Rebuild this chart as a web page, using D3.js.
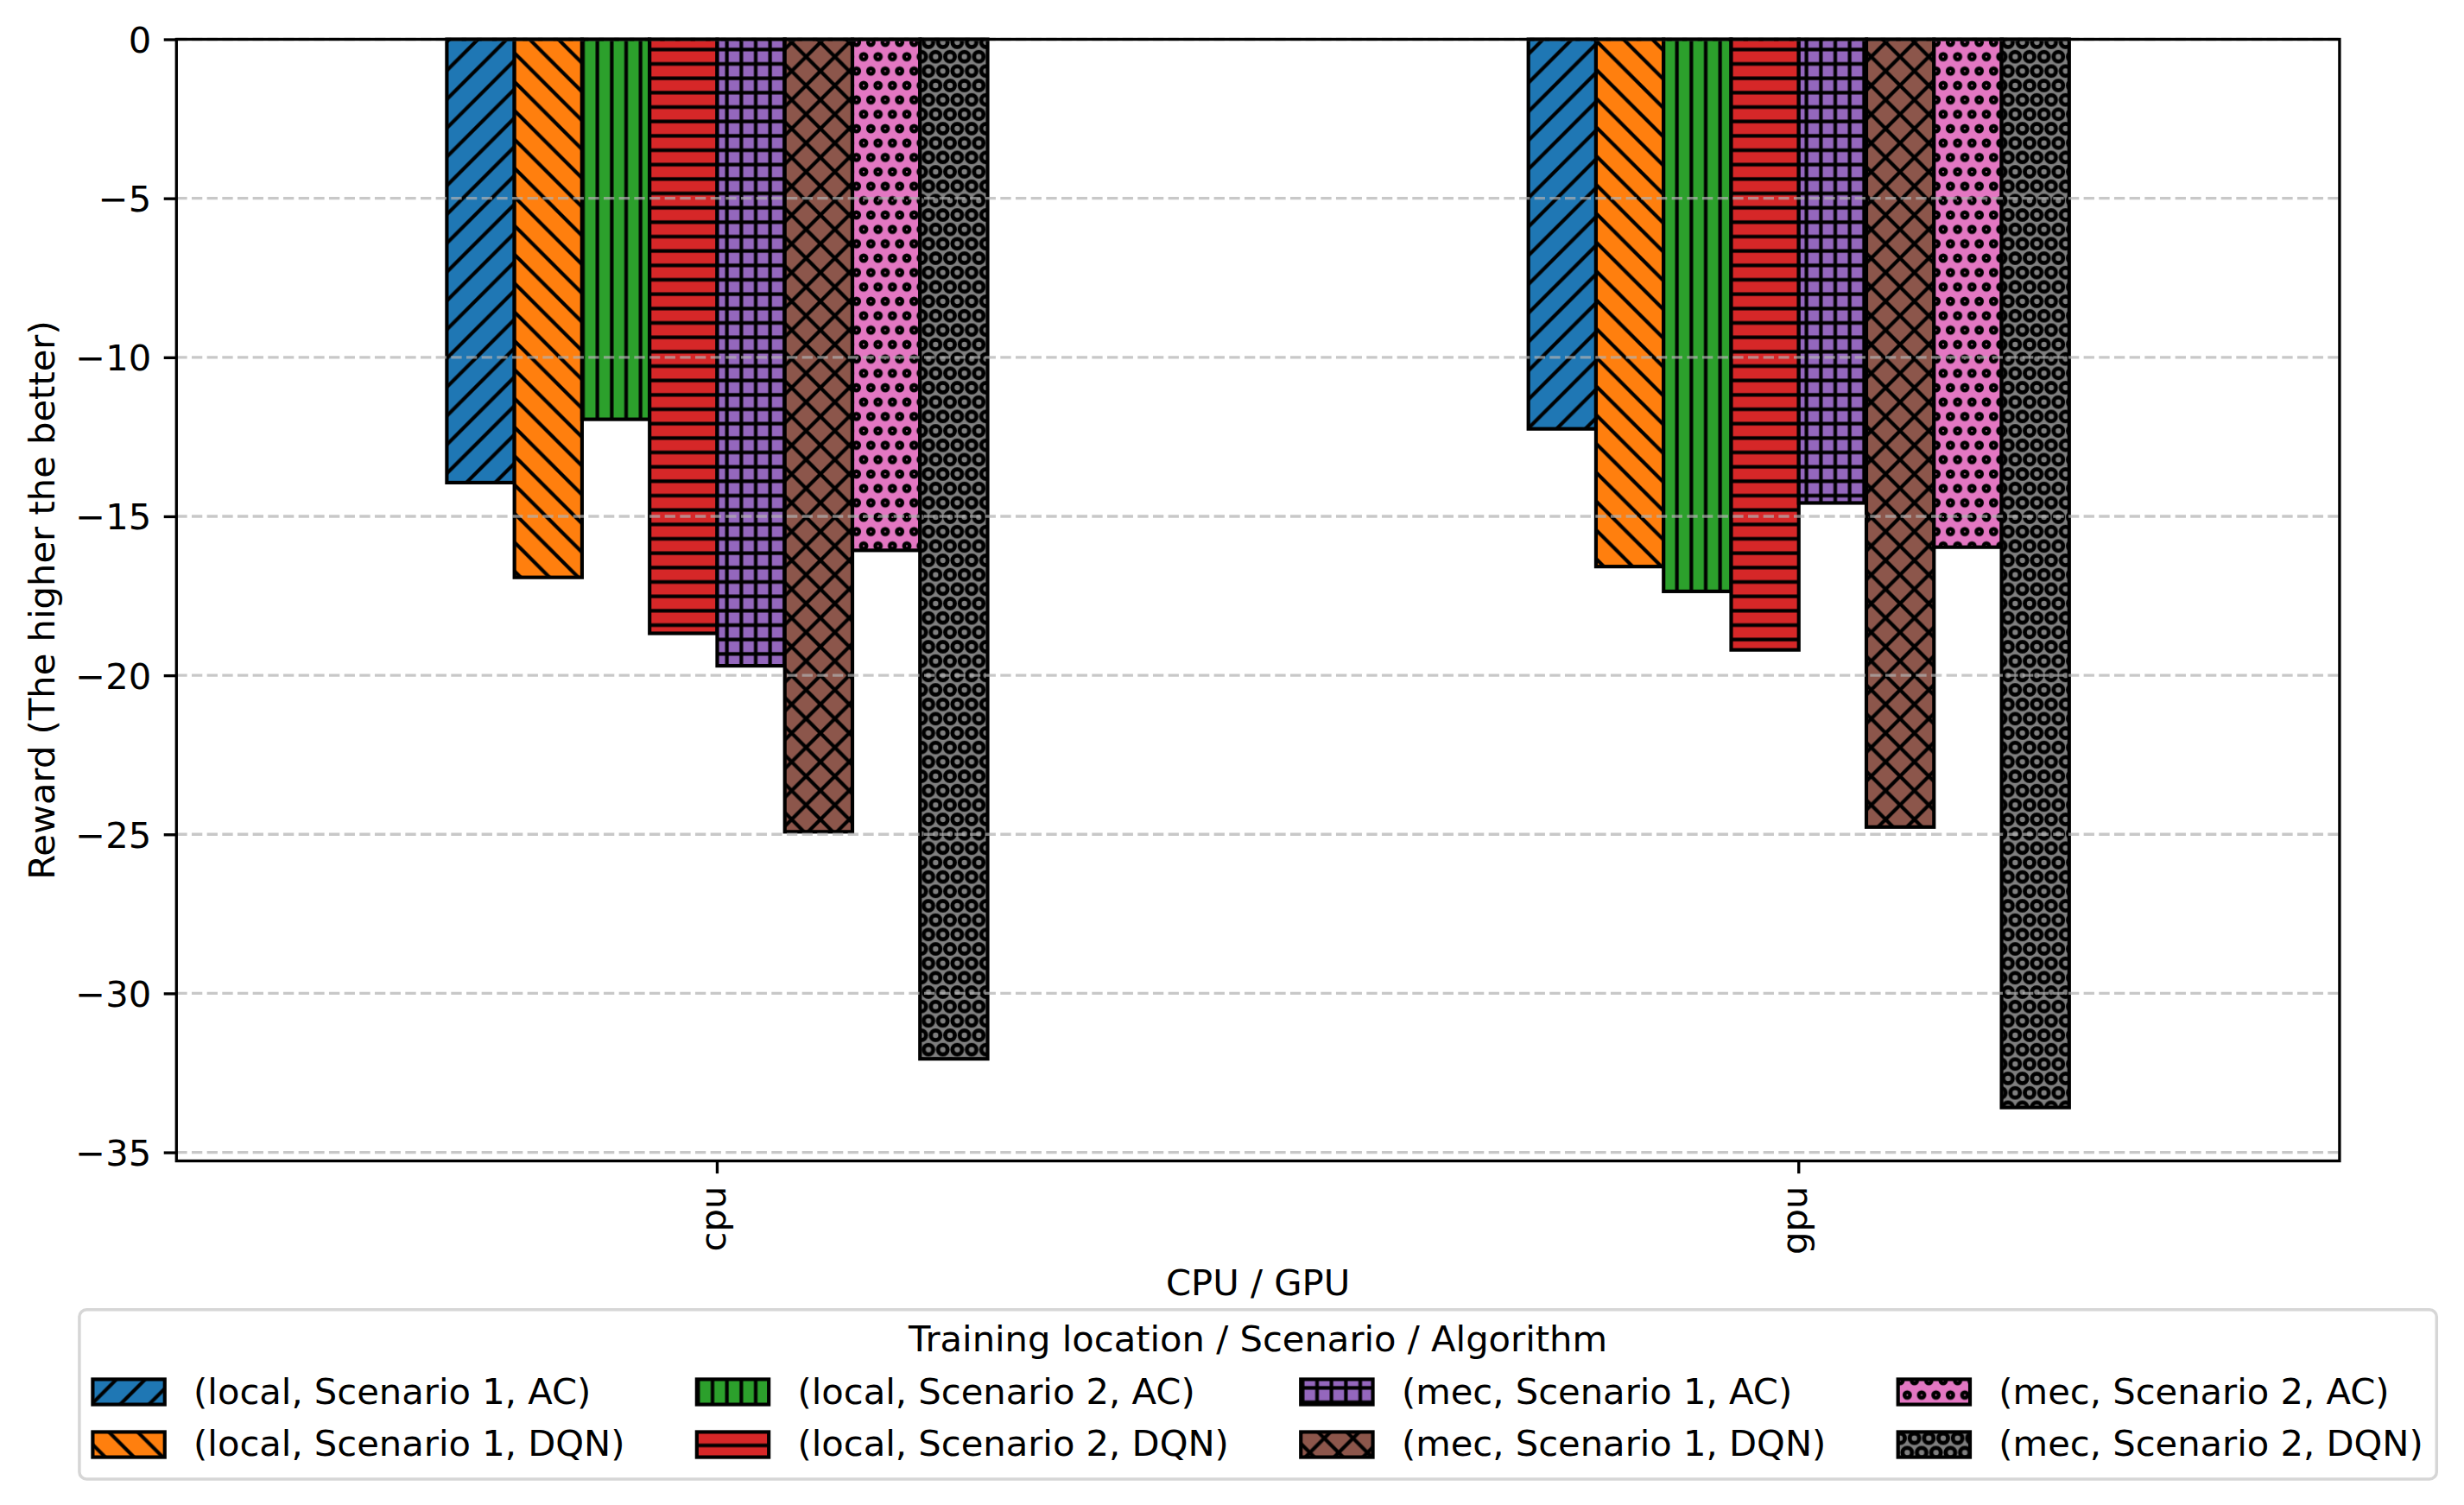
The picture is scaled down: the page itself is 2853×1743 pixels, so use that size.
<!DOCTYPE html>
<html>
<head>
<meta charset="utf-8">
<script src="https://cdn.jsdelivr.net/npm/d3@7"></script>
<style>
  body { margin: 0; background: #fff; }
  text { font-family: "DejaVu Sans", sans-serif; fill: #000; }
</style>
</head>
<body>
<div id="chart"></div>
<script>
// data
const categories = ["cpu", "gpu"];
const seriesLabels = [
  "(local, Scenario 1, AC)",
  "(local, Scenario 1, DQN)",
  "(local, Scenario 2, AC)",
  "(local, Scenario 2, DQN)",
  "(mec, Scenario 1, AC)",
  "(mec, Scenario 1, DQN)",
  "(mec, Scenario 2, AC)",
  "(mec, Scenario 2, DQN)",
];
const localS1AC = [-13.94, -12.25];
const localS1DQN = [-16.92, -16.58];
const localS2AC = [-11.95, -17.36];
const localS2DQN = [-18.68, -19.2];
const mecS1AC = [-19.7, -14.58];
const mecS1DQN = [-24.92, -24.77];
const mecS2AC = [-16.07, -15.97];
const mecS2DQN = [-32.06, -33.59];
const yTicks = [0, -5, -10, -15, -20, -25, -30, -35];

const seriesValues = [
  localS1AC, localS1DQN, localS2AC, localS2DQN,
  mecS1AC, mecS1DQN, mecS2AC, mecS2DQN,
];

// styles
const colors = ["#1f77b4", "#ff7f0e", "#2ca02c", "#d62728", "#9467bd", "#8c564b", "#e377c2", "#7f7f7f"];
const hatches = ["ne", "se", "vert", "horiz", "plus", "cross", "small", "large"];

const chartWidth = 2853;
const chartHeight = 1743;
const margin = { top: 45.5, right: 2853 - 2708.9, bottom: 1743 - 1344.5, left: 204.3 };
const width = chartWidth - margin.left - margin.right;
const height = chartHeight - margin.top - margin.bottom;
const fontSize = 41.67;
const pt = 300 / 72;

const svg = d3
  .select("#chart")
  .append("svg")
  .attr("width", chartWidth)
  .attr("height", chartHeight)
  .style("display", "block");

svg.append("rect").attr("width", chartWidth).attr("height", chartHeight).attr("fill", "#fff");

// hatch patterns (matplotlib style, 300 dpi, density 18 per inch)
const defs = svg.append("defs");
const u = 300 / 18;
const T = 2 * u;
const hatchWidth = pt;

const addPattern = (id, color, kind) => {
  const isDiag = kind === "ne" || kind === "se" || kind === "cross";
  const isCircle = kind === "small" || kind === "large";
  const w = isDiag ? T : u;
  const h = isDiag ? T : isCircle ? 2 * u : u;
  const p = defs
    .append("pattern")
    .attr("id", id)
    .attr("patternUnits", "userSpaceOnUse")
    .attr("width", w)
    .attr("height", h)
    .attr("patternTransform", "translate(0,-1)");
  p.append("rect").attr("width", w).attr("height", h).attr("fill", color);

  const line = (d) =>
    p.append("path").attr("d", d).attr("stroke", "#000").attr("stroke-width", hatchWidth).attr("fill", "none");

  const ne = `M0,${T}L${T},0M${-T / 2},${T / 2}L${T / 2},${-T / 2}M${T / 2},${1.5 * T}L${1.5 * T},${T / 2}`;
  const se = `M0,0L${T},${T}M${-T / 2},${T / 2}L${T / 2},${1.5 * T}M${T / 2},${-T / 2}L${1.5 * T},${T / 2}`;
  const vert = `M${u / 2},0V${u}`;
  const horiz = `M0,${u / 2}H${u}`;

  if (kind === "ne") line(ne);
  if (kind === "se") line(se);
  if (kind === "cross") { line(ne); line(se); }
  if (kind === "vert") line(vert);
  if (kind === "horiz") line(horiz);
  if (kind === "plus") { line(vert); line(horiz); }
  if (isCircle) {
    const r = kind === "small" ? 3.16 : 5.54;
    const sw = kind === "small" ? 4.5 : 4.75;
    [[0, 0], [u, 0], [0, 2 * u], [u, 2 * u], [u / 2, u]].forEach(([cx, cy]) => {
      p.append("circle")
        .attr("cx", cx)
        .attr("cy", cy)
        .attr("r", r)
        .attr("fill", "none")
        .attr("stroke", "#000")
        .attr("stroke-width", sw);
    });
  }
};

seriesLabels.forEach((s, i) => addPattern(`hatch-${i}`, colors[i], hatches[i]));

// scales
const x = d3
  .scaleBand()
  .domain(categories)
  .range([margin.left, margin.left + width])
  .paddingInner(0.5)
  .paddingOuter(0.25);

const xInner = d3.scaleBand().domain(d3.range(seriesLabels.length)).range([0, x.bandwidth()]);

const yMin = d3.min(seriesValues.flat()) * 1.05;
const y = d3.scaleLinear().domain([yMin, 0]).range([margin.top + height, margin.top]);

// bars
const plot = svg.append("g");
seriesValues.forEach((vals, i) => {
  plot
    .append("g")
    .selectAll("rect")
    .data(vals)
    .enter()
    .append("rect")
    .attr("x", (d, j) => x(categories[j]) + xInner(i))
    .attr("width", xInner.bandwidth())
    .attr("y", y(0))
    .attr("height", (d) => y(d) - y(0))
    .attr("fill", `url(#hatch-${i})`)
    .attr("stroke", "#000")
    .attr("stroke-width", pt);
});

// gridlines
svg
  .append("g")
  .selectAll("line")
  .data(yTicks)
  .enter()
  .append("line")
  .attr("x1", margin.left)
  .attr("x2", margin.left + width)
  .attr("y1", (d) => y(d))
  .attr("y2", (d) => y(d))
  .attr("stroke", "#b0b0b0")
  .attr("stroke-opacity", 0.7)
  .attr("stroke-width", 0.8 * pt)
  .attr("stroke-dasharray", `${3.7 * 0.8 * pt},${1.6 * 0.8 * pt}`);

// spines
svg
  .append("rect")
  .attr("x", margin.left)
  .attr("y", margin.top)
  .attr("width", width)
  .attr("height", height)
  .attr("fill", "none")
  .attr("stroke", "#000")
  .attr("stroke-width", 0.8 * pt);

const tickLen = 3.5 * pt;

// y axis
const yAxis = svg
  .append("g")
  .attr("transform", `translate(${margin.left},0)`)
  .call(d3.axisLeft(y).tickValues(yTicks).tickSize(tickLen).tickPadding(tickLen).tickFormat(d3.format("d")));
yAxis.select(".domain").remove();
yAxis.selectAll("line").attr("stroke-width", 0.8 * pt);
yAxis
  .selectAll("text")
  .attr("dy", "0.36em")
  .style("font-size", `${fontSize}px`)
  .style("font-family", "DejaVu Sans");

// x axis
const xAxis = svg
  .append("g")
  .attr("transform", `translate(0,${margin.top + height})`)
  .call(d3.axisBottom(x).tickSize(tickLen));
xAxis.select(".domain").remove();
xAxis.selectAll("line").attr("stroke-width", 0.8 * pt);
xAxis
  .selectAll("text")
  .attr("y", 0)
  .attr("x", -2 * tickLen)
  .attr("dy", "0.23em")
  .attr("transform", "rotate(-90)")
  .style("text-anchor", "end")
  .style("font-size", `${fontSize}px`)
  .style("font-family", "DejaVu Sans");

// axis labels
svg
  .append("text")
  .attr("transform", `translate(63,${margin.top + height / 2}) rotate(-90)`)
  .style("text-anchor", "middle")
  .style("font-size", `${fontSize}px`)
  .text("Reward (The higher the better)");

svg
  .append("text")
  .attr("x", margin.left + width / 2)
  .attr("y", 1500)
  .style("text-anchor", "middle")
  .style("font-size", `${fontSize}px`)
  .text("CPU / GPU");

// legend, 4 columns, filled column by column
const handleLen = 2 * fontSize;
const handleH = 0.7 * fontSize;
const textPad = 0.8 * fontSize;
const colSpacing = 2 * fontSize;
const rowBase = [1625.7, 1686];
const rowMid = [1612, 1673];

const legend = svg.append("g");
const probe = legend.append("text").style("font-size", `${fontSize}px`);
const textW = seriesLabels.map((s) => probe.text(s).node().getComputedTextLength());
probe.remove();

const nCols = 4;
const colW = d3.range(nCols).map((c) => handleLen + textPad + Math.max(textW[2 * c], textW[2 * c + 1]));
const total = d3.sum(colW) + (nCols - 1) * colSpacing;
const startX = margin.left + width / 2 - total / 2;

legend
  .append("rect")
  .attr("x", startX - 15.5)
  .attr("y", 1516.7)
  .attr("width", total + 31)
  .attr("height", 1713 - 1516.7)
  .attr("rx", 0.2 * fontSize)
  .attr("fill", "#fff")
  .attr("stroke", "#d6d6d6")
  .attr("stroke-width", 3.5);

legend
  .append("text")
  .attr("x", margin.left + width / 2)
  .attr("y", 1565)
  .style("text-anchor", "middle")
  .style("font-size", `${fontSize}px`)
  .text("Training location / Scenario / Algorithm");

seriesLabels.forEach((label, i) => {
  const c = Math.floor(i / 2);
  const r = i % 2;
  const cx = startX + d3.sum(colW.slice(0, c)) + c * colSpacing;
  legend
    .append("rect")
    .attr("x", cx)
    .attr("y", rowMid[r] - handleH / 2)
    .attr("width", handleLen)
    .attr("height", handleH)
    .attr("fill", `url(#hatch-${i})`)
    .attr("stroke", "#000")
    .attr("stroke-width", pt);
  legend
    .append("text")
    .attr("x", cx + handleLen + textPad)
    .attr("y", rowBase[r])
    .style("font-size", `${fontSize}px`)
    .text(label);
});
</script>
</body>
</html>
